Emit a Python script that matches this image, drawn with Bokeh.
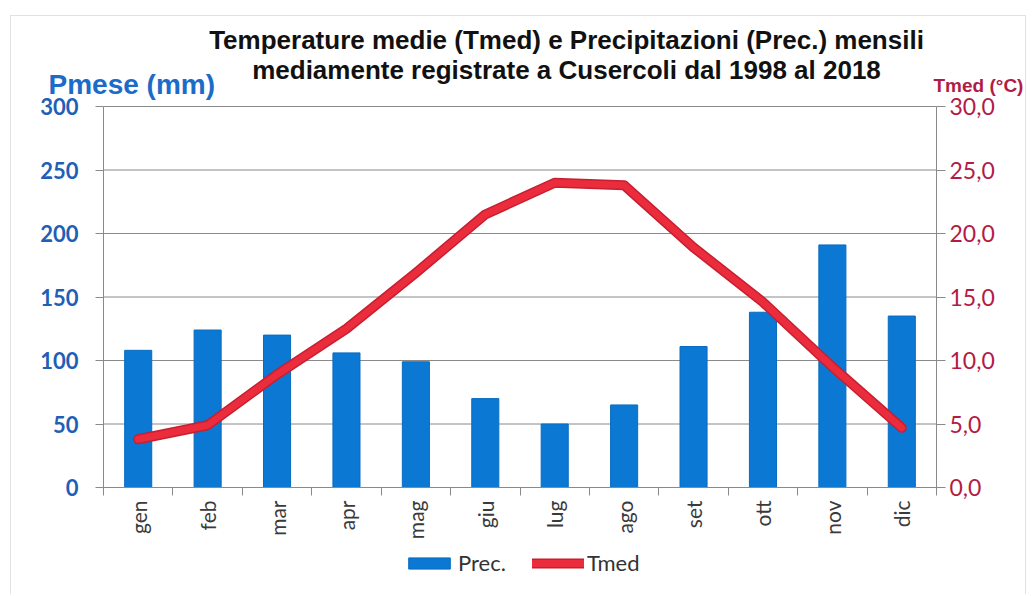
import math
from bokeh.plotting import figure
from bokeh.models import (Range1d, LinearAxis, FixedTicker, Label, Legend, LegendItem,
                          CustomJSTickFormatter, BoxAnnotation, ColumnDataSource)
from bokeh.embed import file_html
from bokeh.resources import INLINE

months = ["gen", "feb", "mar", "apr", "mag", "giu", "lug", "ago", "set", "ott", "nov", "dic"]
prec = [108, 124, 120, 106, 99, 70, 50, 65, 111, 138, 191, 135]
tmed = [3.8, 4.9, 8.9, 12.5, 16.9, 21.5, 24.0, 23.8, 18.9, 14.6, 9.5, 4.7]
prec_ticks = [0, 50, 100, 150, 200, 250, 300]
temp_ticks = [0, 5, 10, 15, 20, 25, 30]

xs = list(range(1, len(months) + 1))
src = ColumnDataSource(dict(x=xs, prec=prec, tmed=tmed))

# page layout (pixels) -- the frame covers the whole canvas, axes are pinned
W, H = 1028, 594
PL, PR, PT, PB = 103, 936, 106, 487
x_lo, x_hi = xs[0] - 0.5, xs[-1] + 0.5
p_lo, p_hi = prec_ticks[0], prec_ticks[-1]
t_lo, t_hi = temp_ticks[0], temp_ticks[-1]
xpu = (PR - PL) / (x_hi - x_lo)
ypu = (PB - PT) / (p_hi - p_lo)
tpu = (PB - PT) / (t_hi - t_lo)

BLUE_TXT = "#1f5fb8"
RED_TXT = "#b31b45"
GRAY = "#8a8a8a"

p = figure(width=W, height=H, output_backend="svg", toolbar_location=None,
           x_range=Range1d(x_lo - PL / xpu, x_hi + (W - PR) / xpu),
           y_range=Range1d(p_lo - (H - PB) / ypu, p_hi + PT / ypu),
           min_border_left=0, min_border_right=0, min_border_top=0, min_border_bottom=0,
           x_axis_location=None, y_axis_location=None)
p.outline_line_color = None
p.background_fill_color = "white"
p.border_fill_color = "white"
p.xgrid.visible = False
p.ygrid.visible = False
p.extra_y_ranges = {"t": Range1d(t_lo - (H - PB) / tpu, t_hi + PT / tpu)}

# horizontal grid lines across the plot area
p.segment(x0=[x_lo] * len(prec_ticks), x1=[x_hi] * len(prec_ticks),
          y0=prec_ticks, y1=prec_ticks, line_color=GRAY, line_width=1)

# x axis (pinned at 0)
xa = LinearAxis(fixed_location=0, bounds=(x_lo, x_hi))
xa.ticker = FixedTicker(ticks=xs, minor_ticks=[x_lo + i for i in range(len(xs) + 1)])
xa.major_label_overrides = {i: m for i, m in zip(xs, months)}
xa.major_label_orientation = math.pi / 2
xa.major_tick_out = 0
xa.major_tick_in = 0
xa.minor_tick_out = 8
xa.minor_tick_in = 0
xa.minor_tick_line_color = GRAY
xa.axis_line_color = GRAY
xa.major_label_text_font = "Lato"
xa.major_label_text_font_size = "21px"
xa.major_label_text_color = "#3a3a3a"
xa.major_label_standoff = 5
p.add_layout(xa, "below")

# left axis (pinned at the left edge of the category range)
ya = LinearAxis(fixed_location=x_lo, bounds=(p_lo, p_hi))
ya.ticker = FixedTicker(ticks=prec_ticks)
ya.major_tick_out = 8
ya.major_tick_in = 0
ya.minor_tick_out = 0
ya.minor_tick_in = 0
ya.axis_line_color = GRAY
ya.major_tick_line_color = GRAY
ya.major_label_text_font = "Lato"
ya.major_label_text_font_style = "bold"
ya.major_label_text_font_size = "22px"
ya.major_label_text_color = BLUE_TXT
ya.major_label_standoff = 17
p.add_layout(ya, "left")

# right axis (temperature)
ra = LinearAxis(y_range_name="t", fixed_location=x_hi, bounds=(t_lo, t_hi),
                ticker=FixedTicker(ticks=temp_ticks))
ra.formatter = CustomJSTickFormatter(code="return tick.toFixed(1).replace('.', ',');")
ra.major_tick_out = 9
ra.major_tick_in = 0
ra.minor_tick_out = 0
ra.minor_tick_in = 0
ra.axis_line_color = GRAY
ra.major_tick_line_color = GRAY
ra.major_label_text_font = "Lato"
ra.major_label_text_font_size = "23px"
ra.major_label_text_color = RED_TXT
ra.major_label_standoff = 4
p.add_layout(ra, "right")

# bars
bars = p.vbar(x="x", top="prec", width=0.39, bottom=0, source=src,
              fill_color="#0b78d3", line_color="#0a6cc0", line_width=1)

# temperature line
l1 = p.line(x="x", y="tmed", source=src, y_range_name="t",
            line_color="#c81f30", line_width=10, line_join="round", line_cap="round")
l2 = p.line(x="x", y="tmed", source=src, y_range_name="t",
            line_color="#ea2c3c", line_width=7, line_join="round", line_cap="round")

legend = Legend(items=[LegendItem(label="Prec.", renderers=[bars]),
                       LegendItem(label="Tmed", renderers=[l1, l2])],
                location=(403, H - 576), orientation="horizontal",
                border_line_color=None, background_fill_alpha=0,
                glyph_width=52, glyph_height=14, label_text_font="Lato",
                label_text_font_size="22px", label_text_color="#333333",
                spacing=26, padding=0, margin=0, label_standoff=3, label_height=22)
p.add_layout(legend)

# titles and axis titles (screen units: from the canvas' left/bottom)
title_font = "Liberation Sans"
for txt, base_y in [("Temperature medie (Tmed) e Precipitazioni (Prec.) mensili", 39),
                    ("mediamente registrate a Cusercoli dal 1998 al 2018", 69)]:
    p.add_layout(Label(x=566, y=H - base_y, x_units="screen", y_units="screen", text=txt,
                       text_align="center", text_baseline="alphabetic", text_font=title_font,
                       text_font_style="bold", text_font_size="26px", text_color="#111111"))
p.add_layout(Label(x=48, y=H - 84, x_units="screen", y_units="screen",
                   text="Pmese (mm)", text_baseline="alphabetic", text_font=title_font,
                   text_font_style="bold", text_font_size="28px", text_color="#1b6cc8"))
p.add_layout(Label(x=933, y=H - 85, x_units="screen", y_units="screen",
                   text="Tmed (°C)", text_baseline="alphabetic", text_font=title_font,
                   text_font_style="bold", text_font_size="19px", text_color=RED_TXT))

# outer frame of the chart
p.add_layout(BoxAnnotation(left=10, right=W - 3, top=H - 15, bottom=-20,
                           left_units="screen", right_units="screen",
                           top_units="screen", bottom_units="screen",
                           fill_alpha=0, line_color="#9a9a9a", line_width=1))

open("out.html", "w").write(file_html(p, INLINE))
